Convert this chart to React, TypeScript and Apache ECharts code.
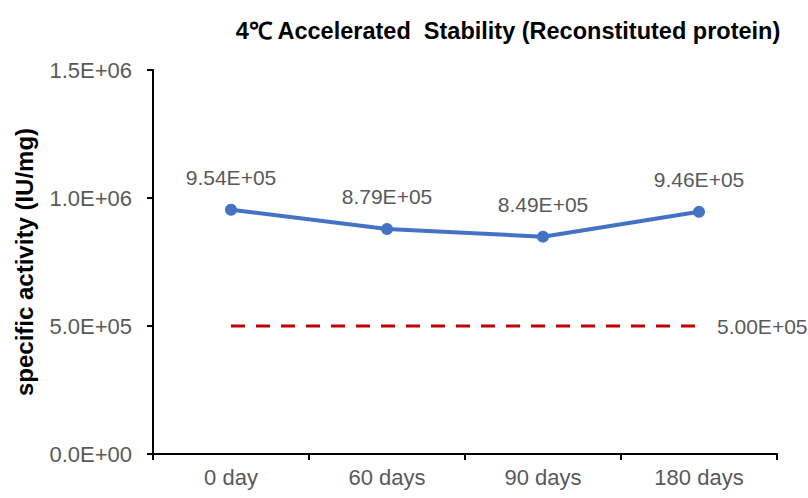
import React, { useEffect, useRef } from "react";
import * as echarts from "echarts";

const categories = ["0 day", "60 days", "90 days", "180 days"];
const activity = [954000, 879000, 849000, 946000];
const threshold = [500000, 500000, 500000, 500000];
const yTicks = { min: 0, max: 1500000, interval: 500000 };
const titleText = "4℃ Accelerated  Stability (Reconstituted protein)";
const yName = "specific activity (IU/mg)";

function sci(v: number, digits: number): string {
  if (v === 0) return (0).toFixed(digits) + "E+00";
  const exp = Math.floor(Math.log10(Math.abs(v)));
  const mant = v / Math.pow(10, exp);
  const sign = exp < 0 ? "-" : "+";
  const e = Math.abs(exp).toString().padStart(2, "0");
  return mant.toFixed(digits) + "E" + sign + e;
}

const FONT = "'Liberation Sans', Arial, sans-serif";
const GRAY = "#595959";

export default function App() {
  const ref = useRef<HTMLDivElement>(null);
  useEffect(() => {
    document.body.style.margin = "0";
    const chart = echarts.init(ref.current!, undefined, { renderer: "svg" });
    chart.setOption({
      animation: false,
      backgroundColor: "#ffffff",
      title: {
        text: titleText,
        left: 503,
        textAlign: "center",
        top: 14,
        textStyle: { fontFamily: FONT, fontSize: 23.5, fontWeight: "bold", color: "#000" },
      },
      grid: { left: 153, right: 31, top: 70, bottom: 44 },
      xAxis: {
        type: "category",
        data: categories,
        axisLine: { lineStyle: { color: "#000", width: 2 } },
        axisTick: { show: true, length: 6, lineStyle: { color: "#000", width: 2 } },
        axisLabel: { color: GRAY, fontSize: 22, fontFamily: FONT, margin: 12 },
      },
      yAxis: {
        type: "value",
        min: yTicks.min,
        max: yTicks.max,
        interval: yTicks.interval,
        name: yName,
        nameLocation: "middle",
        nameGap: 117,
        nameTextStyle: { fontFamily: FONT, fontSize: 24, fontWeight: "bold", color: "#000" },
        axisLine: { show: true, lineStyle: { color: "#000", width: 2 } },
        axisTick: { show: true, length: 6, lineStyle: { color: "#000", width: 2 } },
        splitLine: { show: false },
        axisLabel: {
          color: GRAY,
          fontSize: 22,
          fontFamily: FONT,
          margin: 21,
          formatter: (v: number) => sci(v, 1),
        },
      },
      series: [
        {
          type: "line",
          data: threshold,
          symbol: "none",
          lineStyle: { color: "#C00000", width: 3, type: [14, 11] },
          itemStyle: { color: "#C00000" },
          endLabel: {
            show: true,
            distance: 18,
            color: GRAY,
            fontSize: 21,
            fontFamily: FONT,
            formatter: (p: any) => sci(p.value, 2),
          },
          z: 1,
        },
        {
          type: "line",
          data: activity,
          symbol: "circle",
          symbolSize: 12,
          lineStyle: { color: "#4472C4", width: 4 },
          itemStyle: { color: "#4472C4" },
          label: {
            show: true,
            position: "top",
            distance: 16,
            color: GRAY,
            fontSize: 21,
            fontFamily: FONT,
            formatter: (p: any) => sci(p.value, 2),
          },
          z: 2,
        },
      ],
    });
    return () => chart.dispose();
  }, []);
  return <div ref={ref} style={{ width: 808, height: 498 }} />;
}
